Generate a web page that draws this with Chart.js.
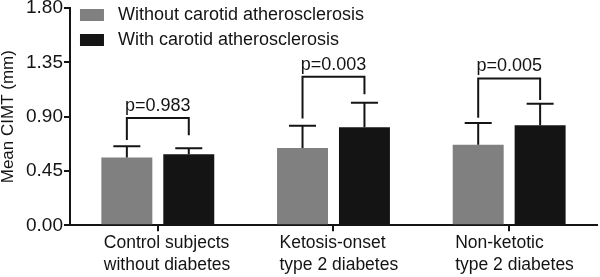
<!DOCTYPE html>
<html>
<head>
<meta charset="utf-8">
<script src="https://cdn.jsdelivr.net/npm/chart.js@4"></script>
<style>
  html, body { margin: 0; padding: 0; background: #fff; }
  #wrap { width: 600px; height: 277px; }
</style>
</head>
<body>
<div id="wrap"><canvas id="cimt"></canvas></div>
<script>
// categories and values
const groups = [
  ['Control subjects', 'without diabetes'],
  ['Ketosis-onset', 'type 2 diabetes'],
  ['Non-ketotic', 'type 2 diabetes']
];
const seriesNames = ['Without carotid atherosclerosis', 'With carotid atherosclerosis'];
const withoutMean = [0.562, 0.641, 0.668];
const withoutSD = [0.093, 0.183, 0.180];
const withMean = [0.589, 0.813, 0.829];
const withSD = [0.049, 0.202, 0.178];
const yTicks = [0, 0.45, 0.9, 1.35, 1.8];

// p-value brackets (in mm)
const pLabels = ['p=0.983', 'p=0.003', 'p=0.005'];
const bracketTop = [0.889, 1.230, 1.217];
const legEndWithout = [0.706, 0.884, 0.892];
const legEndWith = [0.747, 1.086, 1.039];

const FONT = "'Liberation Sans', Arial, sans-serif";
const INK = '#141414';

// error bars + significance brackets
const extras = {
  id: 'extras',
  afterLayout(chart) {
    // nudge the legend into the top-left corner of the plot
    const lg = chart.legend;
    lg.top -= 1; lg.bottom -= 1;
    lg.left += 3; lg.right += 3;
  },
  afterDatasetsDraw(chart) {
    const ctx = chart.ctx;
    const y = chart.scales.y;
    const sds = [withoutSD, withSD];
    ctx.save();
    ctx.strokeStyle = INK;
    ctx.lineWidth = 2;
    chart.data.datasets.forEach((ds, d) => {
      chart.getDatasetMeta(d).data.forEach((bar, i) => {
        const top = y.getPixelForValue(ds.data[i]);
        const err = y.getPixelForValue(ds.data[i] + sds[d][i]);
        ctx.beginPath();
        ctx.moveTo(bar.x, top);
        ctx.lineTo(bar.x, err);
        ctx.moveTo(bar.x - 13.5, err);
        ctx.lineTo(bar.x + 13.5, err);
        ctx.stroke();
      });
    });

    const m0 = chart.getDatasetMeta(0).data;
    const m1 = chart.getDatasetMeta(1).data;
    ctx.fillStyle = INK;
    ctx.font = '18px ' + FONT;
    ctx.textAlign = 'center';
    ctx.textBaseline = 'alphabetic';
    pLabels.forEach((txt, i) => {
      const x1 = m0[i].x, x2 = m1[i].x;
      const yt = y.getPixelForValue(bracketTop[i]);
      ctx.beginPath();
      ctx.moveTo(x1, y.getPixelForValue(legEndWithout[i]));
      ctx.lineTo(x1, yt);
      ctx.lineTo(x2, yt);
      ctx.lineTo(x2, y.getPixelForValue(legEndWith[i]));
      ctx.stroke();
      ctx.fillText(txt, (x1 + x2) / 2, yt - 7);
    });
    ctx.restore();
  }
};

new Chart(document.getElementById('cimt'), {
  type: 'bar',
  data: {
    labels: groups,
    datasets: [
      { label: ' ' + seriesNames[0], data: withoutMean, backgroundColor: '#808080', borderWidth: 0 },
      { label: ' ' + seriesNames[1], data: withMean, backgroundColor: INK, borderWidth: 0 }
    ]
  },
  options: {
    responsive: true,
    maintainAspectRatio: false,
    animation: false,
    layout: { padding: { left: 0, right: 3, top: 0, bottom: 0 } },
    datasets: { bar: { categoryPercentage: 0.705, barPercentage: 0.823 } },
    plugins: {
      tooltip: { enabled: false },
      legend: {
        position: 'chartArea',
        align: 'start',
        labels: {
          boxWidth: 24,
          boxHeight: 12,
          padding: 7,
          color: INK,
          font: { family: FONT, size: 18 }
        }
      }
    },
    scales: {
      x: {
        grid: {
          offset: false,
          drawOnChartArea: false,
          tickLength: 6,
          lineWidth: 2,
          tickColor: INK
        },
        border: { color: INK, width: 2 },
        ticks: {
          color: INK,
          align: 'start',
          labelOffset: -54,
          padding: 1.5,
          maxRotation: 0,
          autoSkip: false,
          font: { family: FONT, size: 17.5, lineHeight: 1.22 }
        },
        afterFit(scale) { scale.paddingLeft = 0; scale.paddingRight = 0; }
      },
      y: {
        min: 0,
        max: 1.8,
        afterBuildTicks(scale) { scale.ticks = yTicks.map(v => ({ value: v })); },
        grid: {
          drawOnChartArea: false,
          tickLength: 6,
          lineWidth: 2,
          tickColor: INK
        },
        border: { color: INK, width: 2 },
        ticks: {
          color: INK,
          padding: 1,
          font: { family: FONT, size: 19, lineHeight: 0.74 },
          callback: v => v.toFixed(2)
        },
        title: {
          display: true,
          text: 'Mean CIMT (mm)',
          color: INK,
          padding: { top: 0, bottom: 8 },
          font: { family: FONT, size: 17, lineHeight: 1 }
        }
      }
    }
  },
  plugins: [extras]
});
</script>
</body>
</html>
